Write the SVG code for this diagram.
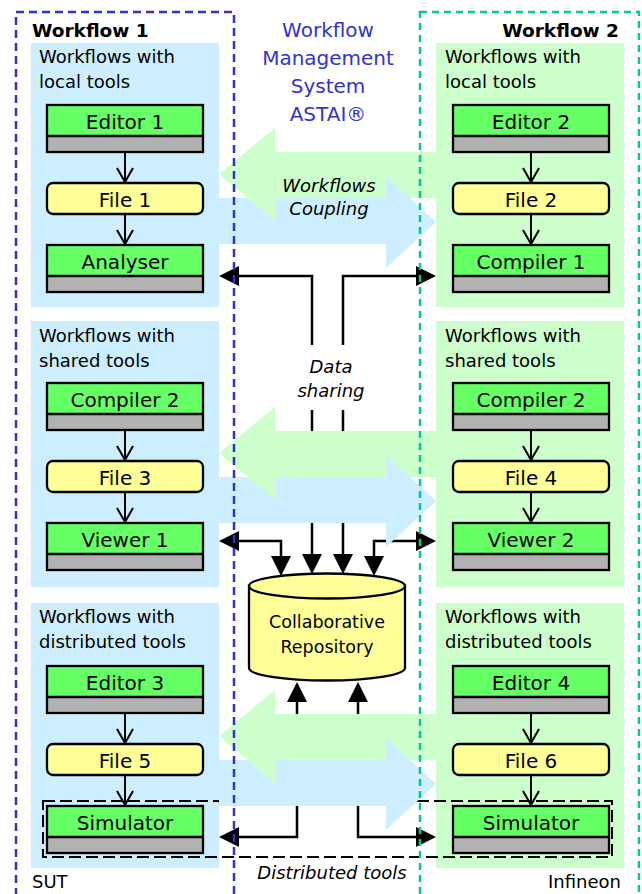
<svg xmlns="http://www.w3.org/2000/svg" width="642" height="894" viewBox="0 0 642 894">
<style>
text{font-family:"DejaVu Sans",Verdana,sans-serif;fill:#000}
.pl{fill:#cceeff}
.pr{fill:#ccffcc}
.lbl{font-size:18px}
.tn{font-size:20px;text-anchor:middle}
.tg{fill:#66ff66}
.tgr{fill:#b2b2b2}
.tout{fill:none;stroke:#000;stroke-width:2.3}
.file{fill:#ffff99;stroke:#000;stroke-width:2.3}
.vl{fill:none;stroke:#000;stroke-width:2;marker-end:url(#open)}
.dl{fill:none;stroke:#000;stroke-width:2.5}
.ms{marker-start:url(#solid)}
.me{marker-end:url(#solid)}
.cb{fill:#cceeff}
.cg{fill:#ccffcc}
.it{font-size:18px;font-style:italic;text-anchor:middle}
.title{font-size:20px;fill:#3333cc;text-anchor:middle}
.wf{font-size:18.5px;font-weight:bold}
</style>
<defs>
<marker id="solid" viewBox="0 0 20 20" refX="14" refY="10" markerWidth="20" markerHeight="20" markerUnits="userSpaceOnUse" orient="auto-start-reverse">
<path d="M0,0 L20,10 L0,20 z" fill="#000"/>
</marker>
<marker id="open" viewBox="-2 -2 18 20" refX="14" refY="8" markerWidth="18" markerHeight="20" markerUnits="userSpaceOnUse" orient="auto">
<path d="M0,0 L14,8 L0,16" fill="none" stroke="#000" stroke-width="2"/>
</marker>
</defs>

<!-- panels -->
<g id="panel-local-1"><rect class="pl" x="31" y="43" width="188" height="264"/><text class="lbl" x="39" y="63">Workflows with</text><text class="lbl" x="39" y="88">local tools</text></g>
<g id="panel-shared-1"><rect class="pl" x="31" y="321" width="188" height="266"/><text class="lbl" x="39" y="342">Workflows with</text><text class="lbl" x="39" y="367">shared tools</text></g>
<g id="panel-distributed-1"><rect class="pl" x="31" y="603" width="188" height="265"/><text class="lbl" x="39" y="623">Workflows with</text><text class="lbl" x="39" y="648">distributed tools</text></g>
<g id="panel-local-2"><rect class="pr" x="436" y="43" width="188" height="264"/><text class="lbl" x="445" y="63">Workflows with</text><text class="lbl" x="445" y="88">local tools</text></g>
<g id="panel-shared-2"><rect class="pr" x="436" y="321" width="188" height="266"/><text class="lbl" x="445" y="342">Workflows with</text><text class="lbl" x="445" y="367">shared tools</text></g>
<g id="panel-distributed-2"><rect class="pr" x="436" y="603" width="188" height="265"/><text class="lbl" x="445" y="623">Workflows with</text><text class="lbl" x="445" y="648">distributed tools</text></g>

<!-- tools left -->
<g id="editor1"><rect class="tg" x="47" y="105" width="156" height="31"/><rect class="tgr" x="47" y="136" width="156" height="16"/><rect class="tout" x="47" y="105" width="156" height="47"/><line x1="47" y1="136" x2="203" y2="136" stroke="#000" stroke-width="2.3"/><text class="tn" x="125" y="129">Editor 1</text></g>
<g id="file1"><rect class="file" x="47" y="183" width="156" height="31" rx="6"/><text class="tn" x="125" y="207">File 1</text></g>
<g id="analyser"><rect class="tg" x="47" y="245" width="156" height="31"/><rect class="tgr" x="47" y="276" width="156" height="16"/><rect class="tout" x="47" y="245" width="156" height="47"/><line x1="47" y1="276" x2="203" y2="276" stroke="#000" stroke-width="2.3"/><text class="tn" x="125" y="269">Analyser</text></g>

<g id="compiler2-left"><rect class="tg" x="47" y="383" width="156" height="31"/><rect class="tgr" x="47" y="414" width="156" height="16"/><rect class="tout" x="47" y="383" width="156" height="47"/><line x1="47" y1="414" x2="203" y2="414" stroke="#000" stroke-width="2.3"/><text class="tn" x="125" y="407">Compiler 2</text></g>
<g id="file3"><rect class="file" x="47" y="461" width="156" height="31" rx="6"/><text class="tn" x="125" y="485">File 3</text></g>
<g id="viewer1"><rect class="tg" x="47" y="523" width="156" height="31"/><rect class="tgr" x="47" y="554" width="156" height="16"/><rect class="tout" x="47" y="523" width="156" height="47"/><line x1="47" y1="554" x2="203" y2="554" stroke="#000" stroke-width="2.3"/><text class="tn" x="125" y="547">Viewer 1</text></g>

<g id="editor3"><rect class="tg" x="47" y="666" width="156" height="31"/><rect class="tgr" x="47" y="697" width="156" height="16"/><rect class="tout" x="47" y="666" width="156" height="47"/><line x1="47" y1="697" x2="203" y2="697" stroke="#000" stroke-width="2.3"/><text class="tn" x="125" y="690">Editor 3</text></g>
<g id="file5"><rect class="file" x="47" y="744" width="156" height="31" rx="6"/><text class="tn" x="125" y="768">File 5</text></g>
<g id="simulator-left"><rect class="tg" x="47" y="806" width="156" height="31"/><rect class="tgr" x="47" y="837" width="156" height="16"/><rect class="tout" x="47" y="806" width="156" height="47"/><line x1="47" y1="837" x2="203" y2="837" stroke="#000" stroke-width="2.3"/><text class="tn" x="125" y="830">Simulator</text></g>

<!-- tools right -->
<g id="editor2"><rect class="tg" x="453" y="105" width="156" height="31"/><rect class="tgr" x="453" y="136" width="156" height="16"/><rect class="tout" x="453" y="105" width="156" height="47"/><line x1="453" y1="136" x2="609" y2="136" stroke="#000" stroke-width="2.3"/><text class="tn" x="531" y="129">Editor 2</text></g>
<g id="file2"><rect class="file" x="453" y="183" width="156" height="31" rx="6"/><text class="tn" x="531" y="207">File 2</text></g>
<g id="compiler1"><rect class="tg" x="453" y="245" width="156" height="31"/><rect class="tgr" x="453" y="276" width="156" height="16"/><rect class="tout" x="453" y="245" width="156" height="47"/><line x1="453" y1="276" x2="609" y2="276" stroke="#000" stroke-width="2.3"/><text class="tn" x="531" y="269">Compiler 1</text></g>

<g id="compiler2-right"><rect class="tg" x="453" y="383" width="156" height="31"/><rect class="tgr" x="453" y="414" width="156" height="16"/><rect class="tout" x="453" y="383" width="156" height="47"/><line x1="453" y1="414" x2="609" y2="414" stroke="#000" stroke-width="2.3"/><text class="tn" x="531" y="407">Compiler 2</text></g>
<g id="file4"><rect class="file" x="453" y="461" width="156" height="31" rx="6"/><text class="tn" x="531" y="485">File 4</text></g>
<g id="viewer2"><rect class="tg" x="453" y="523" width="156" height="31"/><rect class="tgr" x="453" y="554" width="156" height="16"/><rect class="tout" x="453" y="523" width="156" height="47"/><line x1="453" y1="554" x2="609" y2="554" stroke="#000" stroke-width="2.3"/><text class="tn" x="531" y="547">Viewer 2</text></g>

<g id="editor4"><rect class="tg" x="453" y="666" width="156" height="31"/><rect class="tgr" x="453" y="697" width="156" height="16"/><rect class="tout" x="453" y="666" width="156" height="47"/><line x1="453" y1="697" x2="609" y2="697" stroke="#000" stroke-width="2.3"/><text class="tn" x="531" y="690">Editor 4</text></g>
<g id="file6"><rect class="file" x="453" y="744" width="156" height="31" rx="6"/><text class="tn" x="531" y="768">File 6</text></g>
<g id="simulator-right"><rect class="tg" x="453" y="806" width="156" height="31"/><rect class="tgr" x="453" y="837" width="156" height="16"/><rect class="tout" x="453" y="806" width="156" height="47"/><line x1="453" y1="837" x2="609" y2="837" stroke="#000" stroke-width="2.3"/><text class="tn" x="531" y="830">Simulator</text></g>

<!-- connectors -->
<g id="connectors">
<path class="vl" d="M125,152 L125,182"/>
<path class="vl" d="M125,214 L125,244"/>
<path class="vl" d="M125,430 L125,460"/>
<path class="vl" d="M125,492 L125,522"/>
<path class="vl" d="M125,713 L125,743"/>
<path class="vl" d="M125,775 L125,805"/>
<path class="vl" d="M531,152 L531,182"/>
<path class="vl" d="M531,214 L531,244"/>
<path class="vl" d="M531,430 L531,460"/>
<path class="vl" d="M531,492 L531,522"/>
<path class="vl" d="M531,713 L531,743"/>
<path class="vl" d="M531,775 L531,805"/>
<path class="dl ms" d="M225,276 L312,276 L312,345"/>
<path class="dl ms" d="M430,276 L343,276 L343,345"/>
<path class="dl me" d="M312,410 L312,568"/>
<path class="dl me" d="M343,410 L343,568"/>
<path class="dl ms me" d="M225,541 L281,541 L281,570"/>
<path class="dl ms me" d="M430,541 L374,541 L374,570"/>
<path class="dl ms me" d="M225,837 L297,837 L297,688"/>
<path class="dl ms me" d="M430,837 L358,837 L358,688"/>
</g>

<g id="repository">
<path d="M249,586 L249,668 A78,12.5 0 0 0 405,668 L405,586 z" fill="#ffff99" stroke="#000" stroke-width="2.3"/>
<ellipse cx="327" cy="586" rx="78" ry="12.5" fill="#ffff99" stroke="#000" stroke-width="2.3"/>
<text x="327" y="628" font-size="17.5" text-anchor="middle">Collaborative</text>
<text x="327" y="653" font-size="17.5" text-anchor="middle">Repository</text>
</g>

<g id="data-sharing-label">
<text class="it" x="331" y="373">Data</text>
<text class="it" x="331" y="397">sharing</text>
</g>

<rect id="distributed-tools" x="43" y="801" width="569" height="56" fill="none" stroke="#000" stroke-width="2" stroke-dasharray="12 5"/>

<!-- coupling arrows -->
<g id="coupling-1">
<rect class="cb" x="219" y="198" width="167" height="46"/>
<polygon class="cg" points="219,174 275,128 275,152 436,152 436,198 275,198 275,221"/>
<polygon class="cb" points="386,176 436,222 386,268"/>
<text class="it" x="329" y="192">Workflows</text>
<text class="it" x="329" y="215">Coupling</text>
</g>
<g id="coupling-2">
<rect class="cb" x="219" y="477" width="167" height="46"/>
<polygon class="cg" points="219,453 275,407 275,431 436,431 436,477 275,477 275,500"/>
<polygon class="cb" points="386,455 436,501 386,547"/>
</g>
<g id="coupling-3">
<rect class="cb" x="219" y="760" width="167" height="46"/>
<polygon class="cg" points="219,736 275,690 275,714 436,714 436,760 275,760 275,783"/>
<polygon class="cb" points="386,738 436,784 386,830"/>
</g>

<g id="distributed-label"><text class="it" x="332" y="879">Distributed tools</text></g>

<!-- workflow frames -->
<g id="workflow1">
<rect x="16" y="12" width="218" height="900" fill="none" stroke="#3333cc" stroke-width="2.5" stroke-dasharray="8 5"/>
<text class="wf" x="32" y="37">Workflow 1</text>
<text class="lbl" x="32" y="888">SUT</text>
</g>
<g id="workflow2">
<rect x="420" y="12" width="219" height="900" fill="none" stroke="#00c896" stroke-width="2.5" stroke-dasharray="7 5"/>
<text class="wf" x="619" y="37" text-anchor="end">Workflow 2</text>
<text class="lbl" x="621" y="888" text-anchor="end">Infineon</text>
</g>

<g id="wms-title">
<text class="title" x="328" y="37">Workflow</text>
<text class="title" x="328" y="65">Management</text>
<text class="title" x="328" y="93">System</text>
<text class="title" x="328" y="121">ASTAI®</text>
</g>
</svg>
